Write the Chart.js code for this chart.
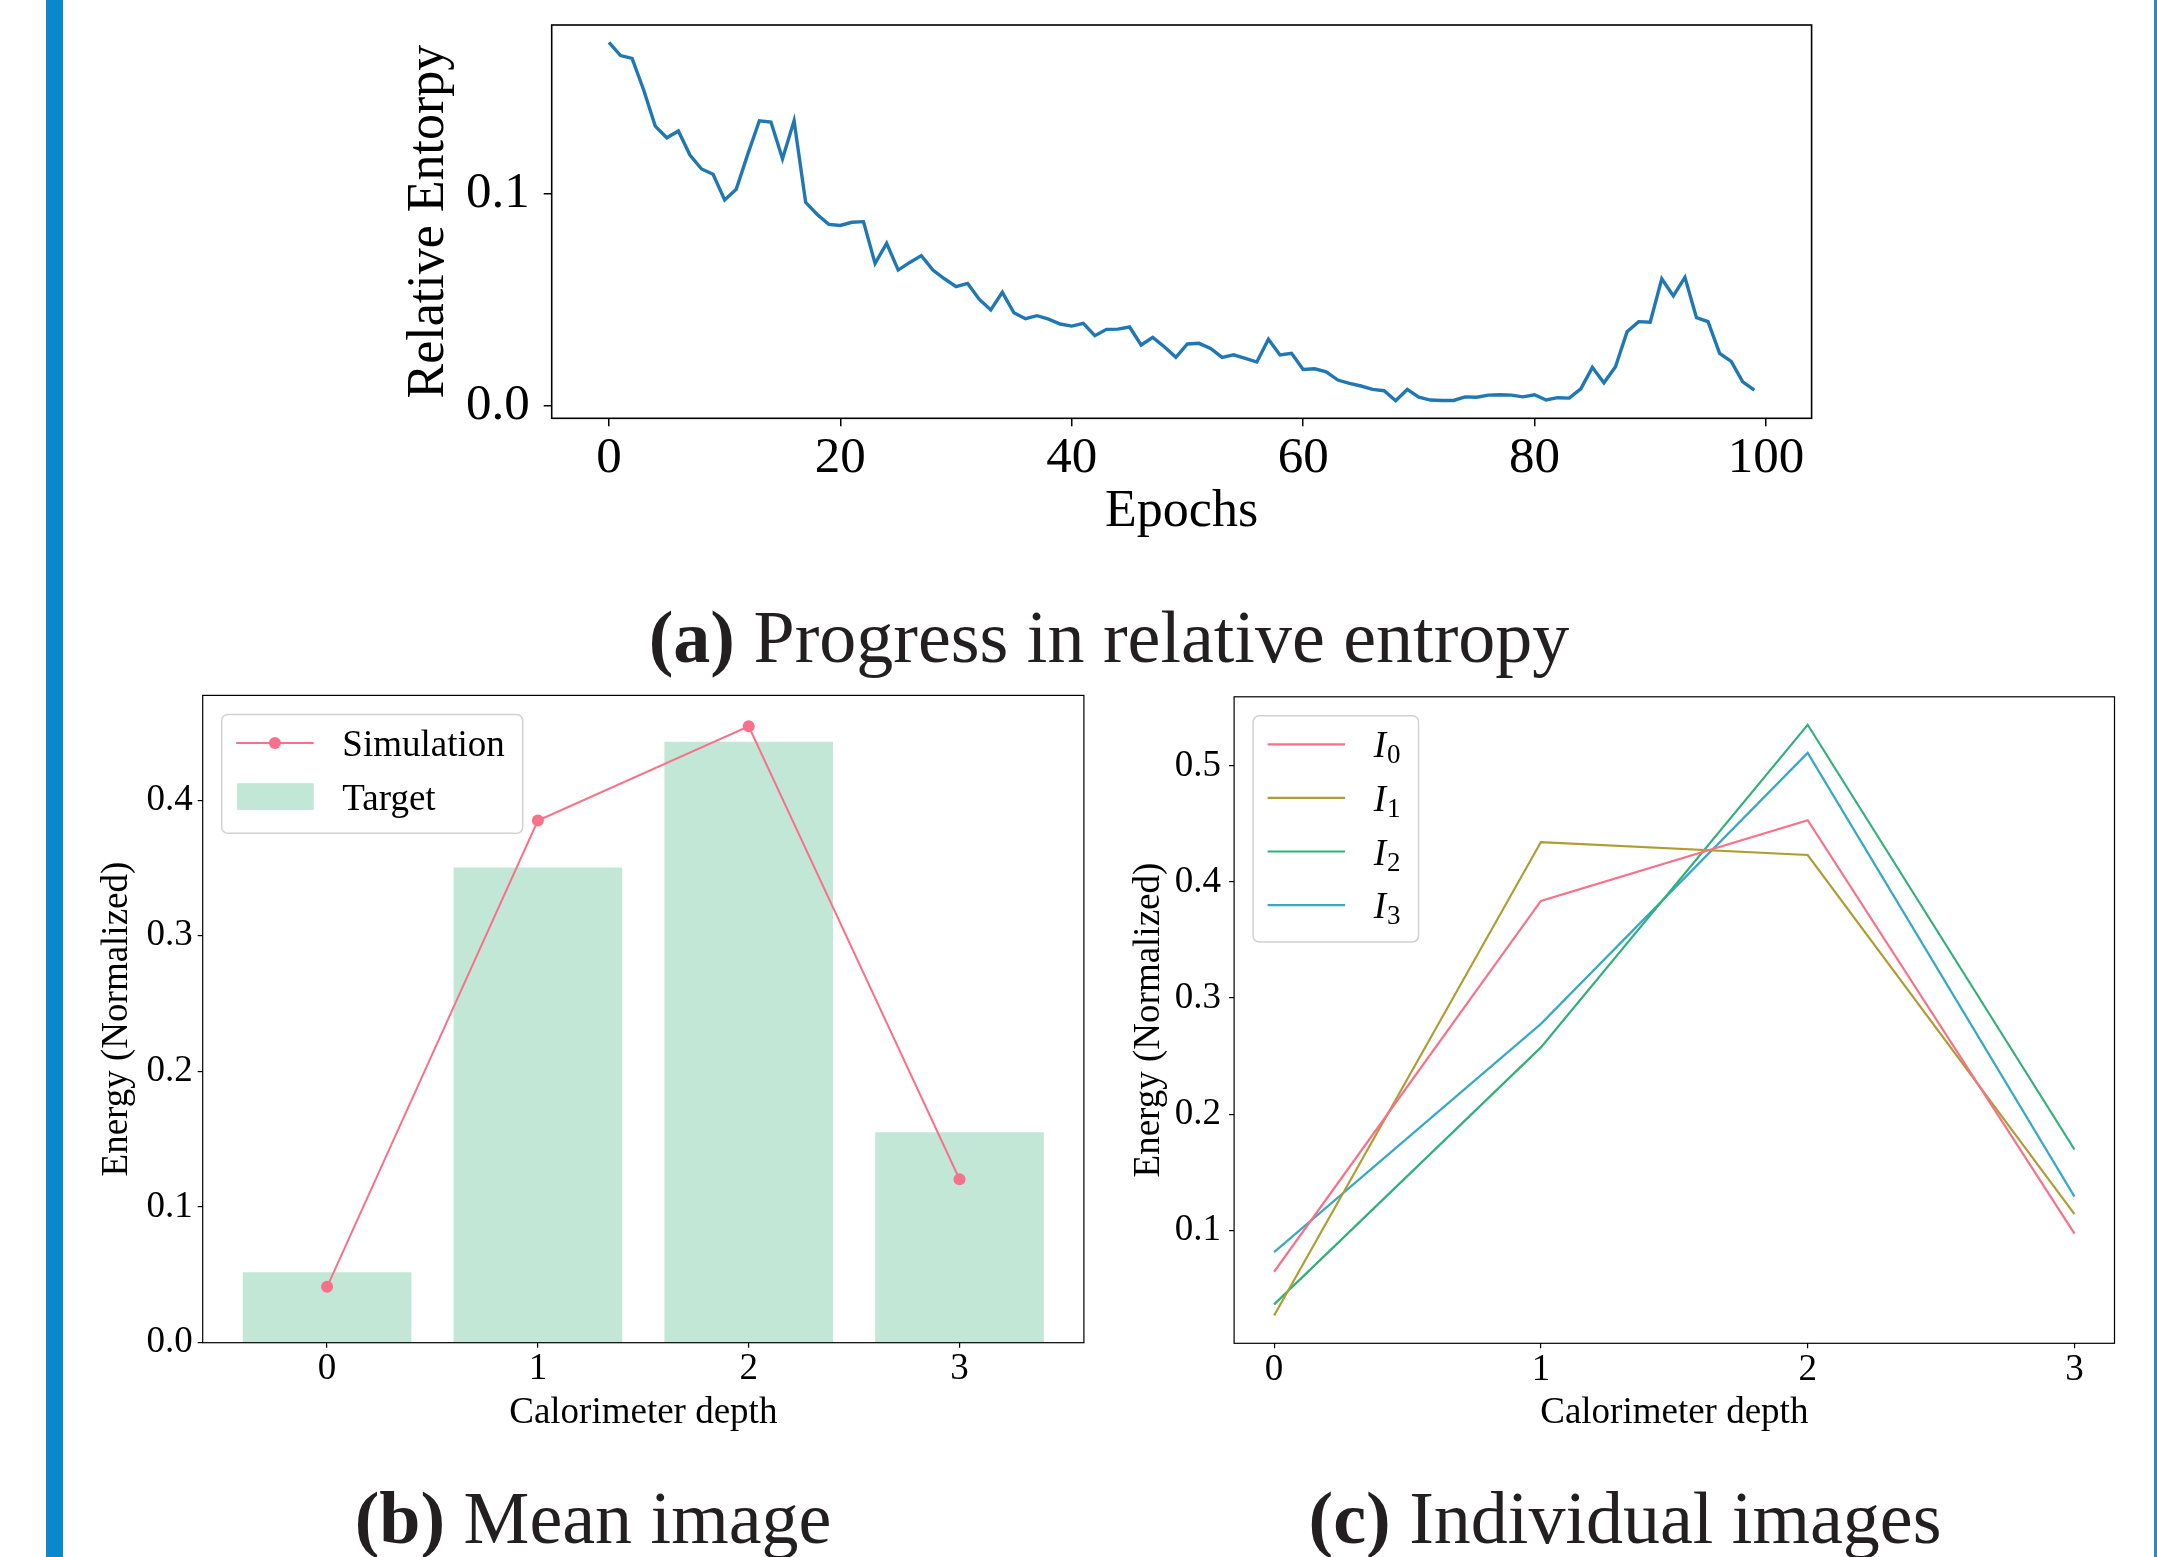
<!DOCTYPE html>
<html><head><meta charset="utf-8">
<script src="https://cdn.jsdelivr.net/npm/chart.js@4.4.1/dist/chart.umd.min.js"></script>
<style>
html,body{margin:0;padding:0;background:#fff;}
body{width:2157px;height:1557px;position:relative;overflow:hidden;}
canvas{position:absolute;}
.cap{position:absolute;font-family:"Liberation Serif","Times New Roman",serif;font-size:74px;line-height:74px;color:#231f20;white-space:nowrap;transform:translateX(-50%);}
.vbar{position:absolute;top:0;height:1557px;}
</style></head><body>
<div class="vbar" style="left:46px;width:17px;background:#0b87cb"></div>
<div class="vbar" style="left:2154px;width:3px;background:#1a8fd6"></div>
<canvas id="cA" width="1470" height="560" style="left:380px;top:0;width:1470px;height:560px"></canvas>
<canvas id="cB" width="1030" height="760" style="left:80px;top:680px;width:1030px;height:760px"></canvas>
<canvas id="cC" width="1040" height="760" style="left:1110px;top:680px;width:1040px;height:760px"></canvas>
<div class="cap" style="left:1109px;top:600px"><b>(a)</b> Progress in relative entropy</div>
<div class="cap" style="left:593px;top:1481px"><b>(b)</b> Mean image</div>
<div class="cap" style="left:1625px;top:1481px"><b>(c)</b> Individual images</div>
<script>
// ---------- DATA ----------
const epochs = [0,1,2,3,4,5,6,7,8,9,10,11,12,13,14,15,16,17,18,19,20,21,22,23,24,25,26,27,28,29,30,31,32,33,34,35,36,37,38,39,40,41,42,43,44,45,46,47,48,49,50,51,52,53,54,55,56,57,58,59,60,61,62,63,64,65,66,67,68,69,70,71,72,73,74,75,76,77,78,79,80,81,82,83,84,85,86,87,88,89,90,91,92,93,94,95,96,97,98,99];
const relativeEntropy = [0.1711,0.1649,0.1636,0.1487,0.1317,0.1262,0.1294,0.1181,0.1115,0.1090,
0.0969,0.1019,0.1185,0.1342,0.1336,0.1163,0.1342,0.0958,0.0901,0.0854,
0.0849,0.0864,0.0867,0.0670,0.0765,0.0639,0.0675,0.0707,0.0639,0.0598,
0.0561,0.0576,0.0502,0.0451,0.0534,0.0438,0.0410,0.0424,0.0408,0.0385,
0.0375,0.0388,0.0330,0.0360,0.0361,0.0371,0.0286,0.0322,0.0278,0.0228,
0.0291,0.0294,0.0270,0.0228,0.0240,0.0223,0.0206,0.0313,0.0239,0.0247,
0.0171,0.0174,0.0160,0.0121,0.0105,0.0093,0.0077,0.0071,0.0024,0.0077,
0.0040,0.0027,0.0025,0.0025,0.0042,0.0040,0.0050,0.0052,0.0050,0.0042,
0.0052,0.0027,0.0038,0.0036,0.0080,0.0181,0.0108,0.0184,0.0349,0.0396,
0.0393,0.0598,0.0517,0.0605,0.0415,0.0396,0.0247,0.0209,0.0113,0.0074];
const epochTicks = [0,20,40,60,80,100];
const entropyTicks = [0.0,0.1];

const depths = [0,1,2,3];
const targetEnergy = [0.0520,0.3503,0.4431,0.1552];
const simulationEnergy = [0.0412,0.3850,0.4544,0.1205];
const meanTicks = [0.0,0.1,0.2,0.3,0.4];

const imageLabels = ['I₀','I₁','I₂','I₃'];
const image0 = [0.0643,0.3836,0.4531,0.0971];
const image1 = [0.0266,0.4343,0.4232,0.1140];
const image2 = [0.0362,0.2575,0.5353,0.1696];
const image3 = [0.0812,0.2778,0.5111,0.1290];
const individualTicks = [0.1,0.2,0.3,0.4,0.5];

// ---------- STYLE ----------
const FONT = "'Liberation Serif','Times New Roman',serif";
const PAL = ['#f77189','#ae9d31','#33b07a','#38a9c5'];
const TARGET_FILL = '#c2e7d7';

const toXY = (xs, ys) => xs.map((x,i)=>({x:x, y:ys[i]}));
const setTicks = vals => s => { s.ticks = vals.map(v=>({value:v})); };
const fixSize = size => s => {
  if (s.isHorizontal()) s.height = size; else s.width = size;
  s.paddingTop = 0; s.paddingBottom = 0; s.paddingLeft = 0; s.paddingRight = 0;
};

const frame = {
  id:'frame',
  afterDraw(chart, args, o){
    const {ctx, chartArea:a} = chart;
    ctx.save();
    ctx.strokeStyle = '#000';
    ctx.lineWidth = o.width || 1.2;
    ctx.strokeRect(a.left, a.top, a.right-a.left, a.bottom-a.top);
    ctx.restore();
  }
};

function labelParts(label){
  const m = /^(.)([\u2080-\u2089])$/.exec(label);
  if(m) return {main:m[1], sub:String(m[2].charCodeAt(0)-0x2080)};
  return null;
}
function measureLabel(ctx, label){
  const p = labelParts(label);
  if(p){
    ctx.font = `italic 37px ${FONT}`; const w1 = ctx.measureText(p.main).width;
    ctx.font = `27px ${FONT}`; const w2 = ctx.measureText(p.sub).width;
    return w1 + w2 + 1;
  }
  ctx.font = `37px ${FONT}`;
  return ctx.measureText(label).width;
}
function drawLabel(ctx, label, x, yc){
  const p = labelParts(label);
  ctx.fillStyle = '#000';
  ctx.textBaseline = 'alphabetic';
  ctx.textAlign = 'left';
  const base = yc + 13;
  if(p){
    ctx.font = `italic 37px ${FONT}`;
    ctx.fillText(p.main, x, base);
    const w1 = ctx.measureText(p.main).width;
    ctx.font = `27px ${FONT}`;
    ctx.fillText(p.sub, x + w1 + 1, base + 6);
  } else {
    ctx.font = `37px ${FONT}`;
    ctx.fillText(label, x, base);
  }
}

const mplLegend = {
  id:'mplLegend',
  afterDraw(chart){
    const {ctx, chartArea:a} = chart;
    const ds = chart.data.datasets;
    const n = ds.length;
    ctx.save();
    let maxW = 0;
    ds.forEach(d => { maxW = Math.max(maxW, measureLabel(ctx, d.label)); });
    const bx = a.left + 19, by = a.top + 19;
    const bw = 120.6 + maxW + 18;
    const bh = 28.5 + (n-1)*53.6 + 36.8;
    ctx.beginPath();
    ctx.roundRect(bx, by, bw, bh, 6);
    ctx.fillStyle = 'rgba(255,255,255,0.8)';
    ctx.fill();
    ctx.strokeStyle = 'rgba(204,204,204,0.9)';
    ctx.lineWidth = 1.5;
    ctx.stroke();
    ds.forEach((d, i) => {
      const yc = by + 28.5 + i*53.6;
      const x0 = bx + 14.5, x1 = bx + 92;
      if((d.type || chart.config.type) === 'bar'){
        ctx.fillStyle = d.backgroundColor;
        ctx.fillRect(x0 + 0.8, yc - 13.3, x1 - x0 - 0.8, 26.7);
      } else {
        ctx.strokeStyle = d.borderColor;
        ctx.lineWidth = d.borderWidth || 2;
        ctx.beginPath(); ctx.moveTo(x0, yc); ctx.lineTo(x1, yc); ctx.stroke();
        if(d.pointRadius){
          ctx.fillStyle = d.pointBackgroundColor || d.borderColor;
          ctx.beginPath(); ctx.arc((x0+x1)/2, yc, d.pointRadius, 0, Math.PI*2); ctx.fill();
        }
      }
      drawLabel(ctx, d.label, bx + 120.6, yc);
    });
    ctx.restore();
  }
};

function axisCommon(opts){
  return Object.assign({
    grid:{display:true, offset:false, drawOnChartArea:false, drawTicks:true, tickLength:opts.tl, tickWidth:opts.tw, tickColor:'#000', color:'#000', lineWidth:opts.tw},
    border:{display:false},
  }, opts.extra);
}

Chart.defaults.font.family = FONT;
Chart.defaults.color = '#000';

// ---------- (a) ----------
new Chart(document.getElementById('cA'), {
  type:'line',
  data:{datasets:[{label:'Relative Entorpy', data:toXY(epochs, relativeEntropy), borderColor:'#1f77b4', borderWidth:3.4, pointRadius:0, tension:0, fill:false}]},
  options:{
    responsive:false, animation:false, devicePixelRatio:1,
    layout:{padding:{top:25, right:38.4, left:0, bottom:0}},
    plugins:{legend:{display:false}, tooltip:{enabled:false}, frame:{width:1.6}},
    scales:{
      x:axisCommon({tl:8, tw:1.5, extra:{
        type:'linear', min:-4.95, max:103.95,
        afterBuildTicks:setTicks(epochTicks),
        afterFit:fixSize(141.7),
        ticks:{font:{size:51, lineHeight:1}, color:'#000', padding:7, maxRotation:0, autoSkip:false, callback:v=>String(v)},
        title:{display:true, text:'Epochs', font:{size:52, lineHeight:1}, color:'#000', padding:{top:0, bottom:21.6}}
      }}),
      y:axisCommon({tl:8, tw:1.5, extra:{
        type:'linear', min:-0.0059, max:0.1793,
        afterBuildTicks:setTicks(entropyTicks),
        afterFit:fixSize(171.7),
        ticks:{font:{size:51, lineHeight:1}, color:'#000', padding:14, autoSkip:false, callback:v=>v.toFixed(1)},
        title:{display:true, text:'Relative Entorpy', font:{size:52, lineHeight:1}, color:'#000', padding:{top:23, bottom:0}}
      }})
    }
  },
  plugins:[frame]
});

// ---------- (b) ----------
new Chart(document.getElementById('cB'), {
  type:'bar',
  data:{datasets:[
    {type:'line', label:'Simulation', data:toXY(depths, simulationEnergy), borderColor:PAL[0], backgroundColor:PAL[0], pointBackgroundColor:PAL[0], pointBorderWidth:0, borderWidth:2, pointRadius:6, tension:0, order:0},
    {type:'bar', label:'Target', data:toXY(depths, targetEnergy), backgroundColor:TARGET_FILL, borderWidth:0, barPercentage:0.8, categoryPercentage:1, order:1}
  ]},
  options:{
    responsive:false, animation:false, devicePixelRatio:1,
    layout:{padding:{top:15.4, right:26.1, left:0, bottom:0}},
    plugins:{legend:{display:false}, tooltip:{enabled:false}, frame:{width:1.2}},
    scales:{
      x:axisCommon({tl:5, tw:1.2, extra:{
        type:'linear', min:-0.59, max:3.59, offset:false,
        afterBuildTicks:setTicks(depths),
        afterFit:fixSize(97.3),
        ticks:{font:{size:37, lineHeight:1}, color:'#000', padding:3, maxRotation:0, autoSkip:false, callback:v=>String(v)},
        title:{display:true, text:'Calorimeter depth', font:{size:37, lineHeight:1}, color:'#000', padding:{top:0, bottom:8}}
      }}),
      y:axisCommon({tl:5, tw:1.2, extra:{
        type:'linear', min:0, max:0.4772,
        afterBuildTicks:setTicks(meanTicks),
        afterFit:fixSize(122.7),
        ticks:{font:{size:37, lineHeight:1}, color:'#000', padding:5, autoSkip:false, callback:v=>v.toFixed(1)},
        title:{display:true, text:'Energy (Normalized)', font:{size:37, lineHeight:1}, color:'#000', padding:{top:18.5, bottom:0}}
      }})
    }
  },
  plugins:[frame, mplLegend]
});

// ---------- (c) ----------
const images = [image0, image1, image2, image3];
new Chart(document.getElementById('cC'), {
  type:'line',
  data:{datasets: images.map((img, i) => ({label:imageLabels[i], data:toXY(depths, img), borderColor:PAL[i], backgroundColor:PAL[i], borderWidth:2.2, pointRadius:0, tension:0, fill:false}))},
  options:{
    responsive:false, animation:false, devicePixelRatio:1,
    layout:{padding:{top:16.8, right:35.5, left:0, bottom:0}},
    plugins:{legend:{display:false}, tooltip:{enabled:false}, frame:{width:1.2}},
    scales:{
      x:axisCommon({tl:5, tw:1.2, extra:{
        type:'linear', min:-0.15, max:3.15,
        afterBuildTicks:setTicks(depths),
        afterFit:fixSize(96.7),
        ticks:{font:{size:37, lineHeight:1}, color:'#000', padding:3, maxRotation:0, autoSkip:false, callback:v=>String(v)},
        title:{display:true, text:'Calorimeter depth', font:{size:37, lineHeight:1}, color:'#000', padding:{top:0, bottom:8}}
      }}),
      y:axisCommon({tl:5, tw:1.2, extra:{
        type:'linear', min:0.0027, max:0.5594,
        afterBuildTicks:setTicks(individualTicks),
        afterFit:fixSize(124.1),
        ticks:{font:{size:37, lineHeight:1}, color:'#000', padding:8, autoSkip:false, callback:v=>v.toFixed(1)},
        title:{display:true, text:'Energy (Normalized)', font:{size:37, lineHeight:1}, color:'#000', padding:{top:20.5, bottom:0}}
      }})
    }
  },
  plugins:[frame, mplLegend]
});
</script>
</body></html>
